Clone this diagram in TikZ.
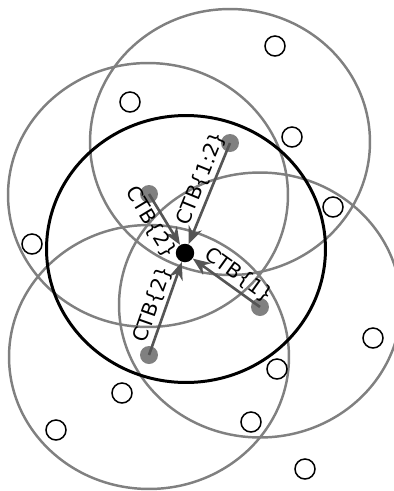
\documentclass[tikz,border=0pt]{standalone}
\usepackage{fontspec}
\setmainfont{DejaVu Sans}
\usetikzlibrary{shapes,arrows.meta,positioning}
\definecolor{ringgray}{HTML}{808080}
\definecolor{arrowgray}{HTML}{555555}
\tikzset{
  ring/.style={
    draw=ringgray,
    line width=1.4pt
  },
  mainring/.style={
    draw=black,
    line width=1.7pt
  },
  anchorpt/.style={
    circle,
    fill=ringgray,
    minimum size=0.36cm,
    inner sep=0pt
  },
  target/.style={
    circle,
    fill=black,
    minimum size=0.37cm,
    inner sep=0pt
  },
  other/.style={
    circle,
    draw=black,
    line width=0.85pt,
    minimum size=0.4cm,
    inner sep=0pt
  },
  ctb/.style={
    -{Stealth[length=10pt,width=8pt]},
    draw=arrowgray,
    line width=1.5pt
  },
  lbl/.style={
    sloped,
    font=\fontsize{11.5}{13}\selectfont,
    text=black,
    inner sep=1.5pt
  }
}

\begin{document}
\begin{tikzpicture}[x=0.02cm, y=-0.02cm]
\useasboundingbox (0,0) rectangle (393,491);

% rings around the anchors
\draw[ring] (230,142) ellipse [x radius=2.8cm, y radius=2.66cm];
\draw[ring] (148,195) ellipse [x radius=2.8cm, y radius=2.64cm];
\draw[ring] (149,357) ellipse [x radius=2.8cm, y radius=2.64cm];
\draw[ring] (260,305) ellipse [x radius=2.82cm, y radius=2.65cm];
\draw[mainring] (186,249) ellipse [x radius=2.79cm, y radius=2.67cm];

% other points
\node[other] (o1) at (275,46) {};
\node[other] (o2) at (130,102) {};
\node[other] (o3) at (292,137) {};
\node[other] (o4) at (333,207) {};
\node[other] (o5) at (32,244) {};
\node[other] (o6) at (373,338) {};
\node[other] (o7) at (277,369) {};
\node[other] (o8) at (122,393) {};
\node[other] (o9) at (251,422) {};
\node[other] (o10) at (56,430) {};
\node[other] (o11) at (305,469) {};

% anchors and target
\node[anchorpt] (a12) at (230,143) {};
\node[anchorpt] (a2u) at (149,194) {};
\node[anchorpt] (a1) at (260,307) {};
\node[anchorpt] (a2l) at (149,355) {};
\node[target] (t) at (185,253) {};

\draw[ctb] (a12.center) -- node[lbl, above, pos=0.4] {CTB\{1:2\}} (t);
\draw[ctb] (a2u.center) -- node[lbl, below, pos=0.42] {CTB\{2\}} (t);
\draw[ctb] (a2l.center) -- node[lbl, above, pos=0.5] {CTB\{2\}} (t);
\draw[ctb] (a1.center) -- node[lbl, above, pos=0.43] {CTB\{1\}} (t);

\end{tikzpicture}
\end{document}
